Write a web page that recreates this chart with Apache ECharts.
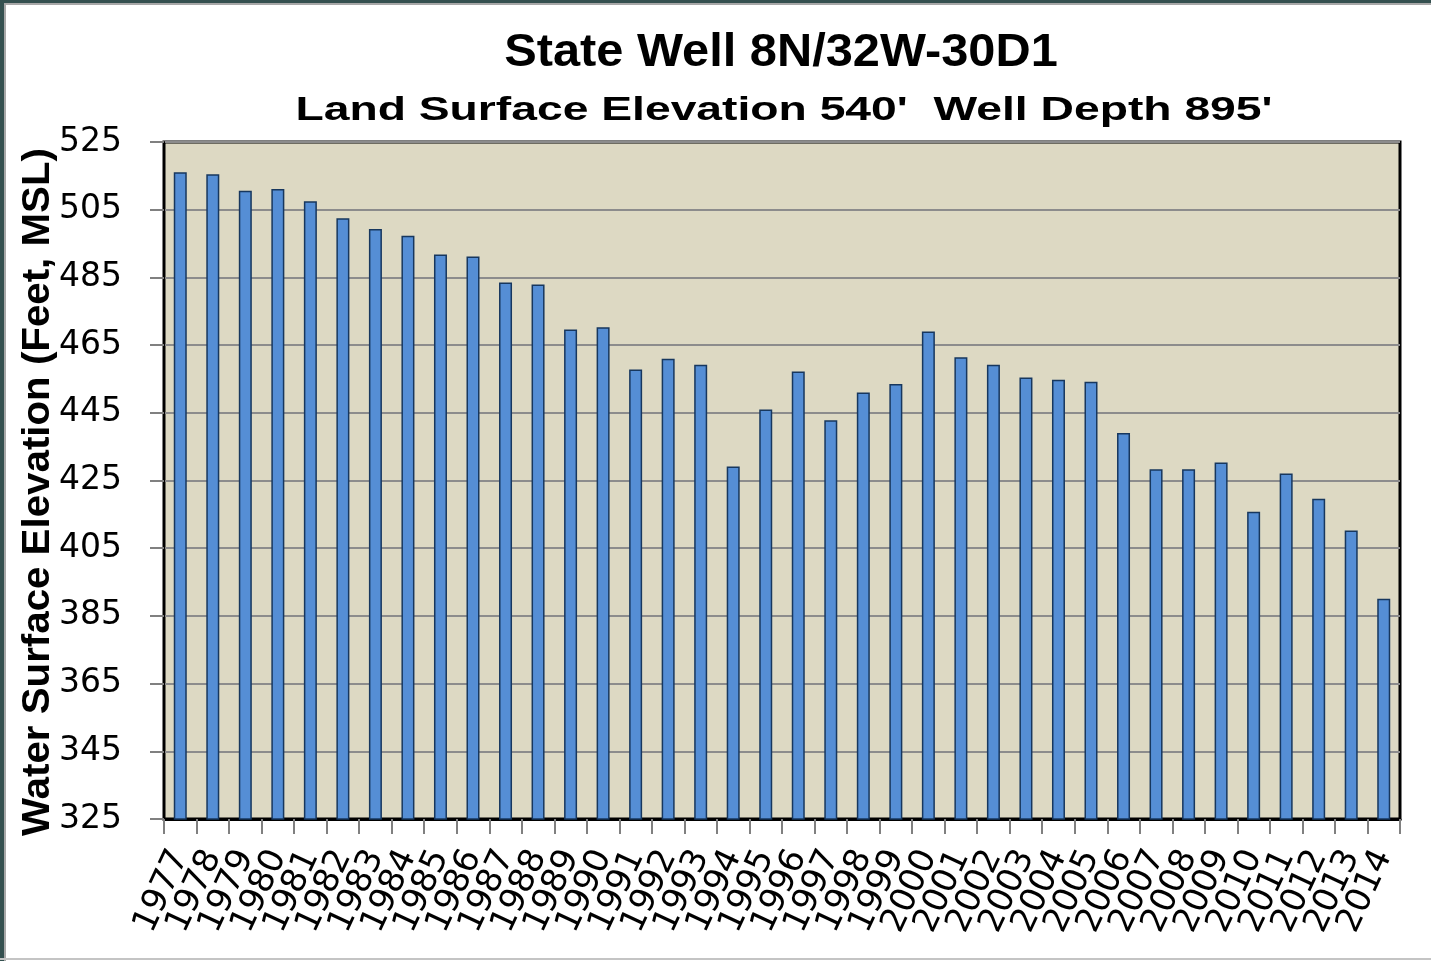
<!DOCTYPE html>
<html>
<head>
<meta charset="utf-8">
<script src="https://cdn.jsdelivr.net/npm/echarts@6/dist/echarts.min.js"></script>
<style>
  html, body { margin: 0; padding: 0; background: #fff; }
  #chart { position: absolute; left: 0; top: 0; width: 1431px; height: 961px; }
  .frame { position: absolute; pointer-events: none; }
</style>
</head>
<body>
<div id="chart"></div>
<div class="frame" style="left:0;top:0;width:1431px;height:3px;background:#34504f;"></div>
<div class="frame" style="left:0;top:3px;width:1431px;height:2px;background:#a8a8a8;"></div>
<div class="frame" style="left:0;top:0;width:4px;height:961px;background:#34504f;"></div>
<div class="frame" style="left:4px;top:3px;width:2px;height:958px;background:#a8a8a8;"></div>
<div class="frame" style="left:0;top:958px;width:1431px;height:2px;background:#c4c4c4;"></div>
<script>
// water surface elevation, feet MSL, one reading per year
const years = [
  '1977', '1978', '1979', '1980', '1981', '1982', '1983', '1984', '1985', '1986',
  '1987', '1988', '1989', '1990', '1991', '1992', '1993', '1994', '1995', '1996',
  '1997', '1998', '1999', '2000', '2001', '2002', '2003', '2004', '2005', '2006',
  '2007', '2008', '2009', '2010', '2011', '2012', '2013', '2014'
];
const elevations = [
  516.1, 515.5, 510.6, 511.1, 507.5, 502.5, 499.3, 497.3, 491.8, 491.2,
  483.5, 482.9, 469.6, 470.3, 457.8, 461.0, 459.2, 429.1, 446.0, 457.2,
  442.8, 451.0, 453.5, 469.0, 461.4, 459.2, 455.4, 454.8, 454.2, 439.0,
  428.3, 428.3, 430.3, 415.8, 427.1, 419.6, 410.2, 390.1
];
const yMin = 325;
const yMax = 525;
const yStep = 20;

const titleMain = 'State Well 8N/32W-30D1';
const titleSub = "Land Surface Elevation 540'  Well Depth 895'";
const yName = 'Water Surface Elevation (Feet, MSL)';

const chart = echarts.init(document.getElementById('chart'));

const font = 'Liberation Sans, Arial, sans-serif';
const tickFont = 'DejaVu Sans, sans-serif';

// excel stretched the heading text, so the titles are scaled sideways
const boldText = (text, x, y, size, sx, rot) => ({
  type: 'text',
  x: x,
  y: y,
  rotation: rot || 0,
  scaleX: sx,
  silent: true,
  style: {
    text: text,
    fill: '#000',
    fontFamily: font,
    fontWeight: 'bold',
    fontSize: size,
    align: 'center',
    verticalAlign: 'middle',
    textAlign: 'center',
    textVerticalAlign: 'middle'
  }
});

chart.setOption({
  animation: false,
  backgroundColor: '#fff',
  textStyle: { fontFamily: font },
  graphic: [
    boldText(titleMain, 781, 53, 46, 1.06),
    boldText(titleSub, 784, 111, 34, 1.36),
    boldText(yName, 39, 492, 38, 1.06, Math.PI / 2)
  ],
  grid: {
    left: 164,
    right: 31,
    top: 142,
    bottom: 142,
    show: true,
    backgroundColor: '#DDD9C3',
    borderColor: '#000',
    borderWidth: 3
  },
  xAxis: {
    type: 'category',
    data: years,
    boundaryGap: true,
    axisLine: { show: true, lineStyle: { color: '#000', width: 3 } },
    axisTick: { show: true, alignWithLabel: false, length: 15, lineStyle: { color: '#808080', width: 2 } },
    axisLabel: {
      interval: 0,
      rotate: 65,
      margin: 33,
      hideOverlap: false,
      color: '#000',
      fontSize: 34,
      fontFamily: tickFont
    }
  },
  yAxis: {
    type: 'value',
    min: yMin,
    max: yMax,
    interval: yStep,
    axisLine: { show: true, lineStyle: { color: '#000', width: 2 } },
    axisTick: { show: true, length: 14, lineStyle: { color: '#808080', width: 2 } },
    axisLabel: { margin: 42, color: '#000', fontSize: 33, fontFamily: tickFont },
    splitLine: { show: true, lineStyle: { color: '#8c8c8c', width: 2 } }
  },
  series: [{
    type: 'bar',
    data: elevations,
    barWidth: 13,
    itemStyle: { color: '#558ED5', borderColor: '#17375E', borderWidth: 1.5 }
  }]
});
</script>
</body>
</html>
